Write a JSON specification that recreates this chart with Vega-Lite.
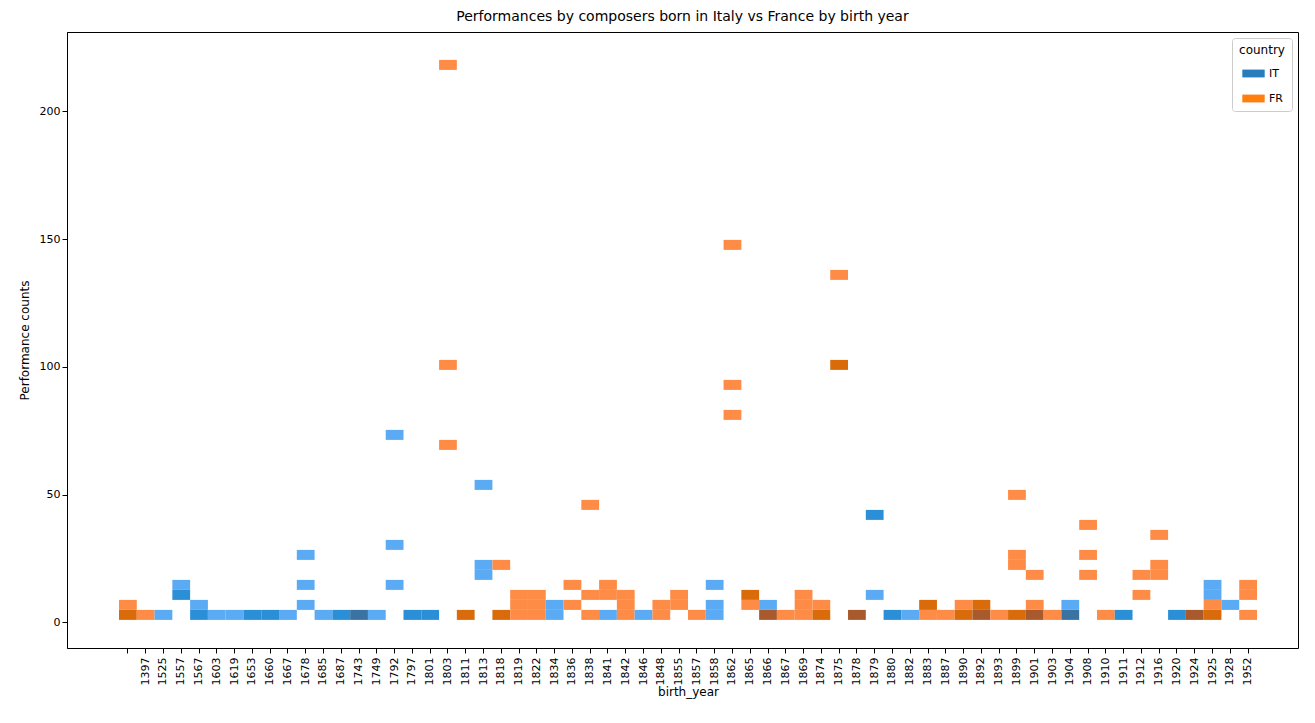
{
  "$schema": "https://vega.github.io/schema/vega-lite/v6.json",
  "autosize": "none",
  "width": 1231,
  "height": 616,
  "padding": {"left": 67, "top": 32, "right": 17, "bottom": 75},
  "config": {
    "font": "DejaVu Sans",
    "view": {"stroke": "black", "strokeWidth": 1},
    "axis": {"labelFontSize": 11, "titleFontSize": 12, "titleFontWeight": "normal", "labelColor": "black", "titleColor": "black", "domainColor": "black", "tickColor": "black", "grid": false}
  },
  "title": {"text": "Performances by composers born in Italy vs France by birth year", "fontSize": 14, "fontWeight": "normal", "offset": 8},
  "layer": [
    {
      "data": {"values": [
        {"year": "", "shade": "FR2", "lo": 1.00, "hi": 4.91},
        {"year": "", "shade": "FR1", "lo": 4.91, "hi": 8.83},
        {"year": "1397", "shade": "FR1", "lo": 1.00, "hi": 4.91},
        {"year": "1525", "shade": "IT1", "lo": 1.00, "hi": 4.91},
        {"year": "1557", "shade": "IT2", "lo": 8.83, "hi": 12.74},
        {"year": "1557", "shade": "IT1", "lo": 12.74, "hi": 16.66},
        {"year": "1567", "shade": "IT2", "lo": 1.00, "hi": 4.91},
        {"year": "1567", "shade": "IT1", "lo": 4.91, "hi": 8.83},
        {"year": "1603", "shade": "IT1", "lo": 1.00, "hi": 4.91},
        {"year": "1619", "shade": "IT1", "lo": 1.00, "hi": 4.91},
        {"year": "1653", "shade": "IT2", "lo": 1.00, "hi": 4.91},
        {"year": "1660", "shade": "IT2", "lo": 1.00, "hi": 4.91},
        {"year": "1667", "shade": "IT1", "lo": 1.00, "hi": 4.91},
        {"year": "1678", "shade": "IT1", "lo": 4.91, "hi": 8.83},
        {"year": "1678", "shade": "IT1", "lo": 12.74, "hi": 16.66},
        {"year": "1678", "shade": "IT1", "lo": 24.48, "hi": 28.40},
        {"year": "1685", "shade": "IT1", "lo": 1.00, "hi": 4.91},
        {"year": "1687", "shade": "IT2", "lo": 1.00, "hi": 4.91},
        {"year": "1743", "shade": "IT3", "lo": 1.00, "hi": 4.91},
        {"year": "1749", "shade": "IT1", "lo": 1.00, "hi": 4.91},
        {"year": "1792", "shade": "IT1", "lo": 12.74, "hi": 16.66},
        {"year": "1792", "shade": "IT1", "lo": 28.40, "hi": 32.31},
        {"year": "1792", "shade": "IT1", "lo": 71.45, "hi": 75.37},
        {"year": "1797", "shade": "IT2", "lo": 1.00, "hi": 4.91},
        {"year": "1801", "shade": "IT2", "lo": 1.00, "hi": 4.91},
        {"year": "1803", "shade": "FR1", "lo": 67.54, "hi": 71.45},
        {"year": "1803", "shade": "FR1", "lo": 98.85, "hi": 102.76},
        {"year": "1803", "shade": "FR1", "lo": 216.27, "hi": 220.18},
        {"year": "1811", "shade": "FR2", "lo": 1.00, "hi": 4.91},
        {"year": "1813", "shade": "IT1", "lo": 16.66, "hi": 20.57},
        {"year": "1813", "shade": "IT1", "lo": 20.57, "hi": 24.48},
        {"year": "1813", "shade": "IT1", "lo": 51.88, "hi": 55.80},
        {"year": "1818", "shade": "FR2", "lo": 1.00, "hi": 4.91},
        {"year": "1818", "shade": "FR1", "lo": 20.57, "hi": 24.48},
        {"year": "1819", "shade": "FR1", "lo": 1.00, "hi": 4.91},
        {"year": "1819", "shade": "FR1", "lo": 4.91, "hi": 8.83},
        {"year": "1819", "shade": "FR1", "lo": 8.83, "hi": 12.74},
        {"year": "1822", "shade": "FR1", "lo": 1.00, "hi": 4.91},
        {"year": "1822", "shade": "FR1", "lo": 4.91, "hi": 8.83},
        {"year": "1822", "shade": "FR1", "lo": 8.83, "hi": 12.74},
        {"year": "1834", "shade": "IT1", "lo": 1.00, "hi": 4.91},
        {"year": "1834", "shade": "IT1", "lo": 4.91, "hi": 8.83},
        {"year": "1836", "shade": "FR1", "lo": 4.91, "hi": 8.83},
        {"year": "1836", "shade": "FR1", "lo": 12.74, "hi": 16.66},
        {"year": "1838", "shade": "FR1", "lo": 1.00, "hi": 4.91},
        {"year": "1838", "shade": "FR1", "lo": 8.83, "hi": 12.74},
        {"year": "1838", "shade": "FR1", "lo": 44.05, "hi": 47.97},
        {"year": "1841", "shade": "IT1", "lo": 1.00, "hi": 4.91},
        {"year": "1841", "shade": "FR1", "lo": 8.83, "hi": 12.74},
        {"year": "1841", "shade": "FR1", "lo": 12.74, "hi": 16.66},
        {"year": "1842", "shade": "FR1", "lo": 1.00, "hi": 4.91},
        {"year": "1842", "shade": "FR1", "lo": 4.91, "hi": 8.83},
        {"year": "1842", "shade": "FR1", "lo": 8.83, "hi": 12.74},
        {"year": "1846", "shade": "IT1", "lo": 1.00, "hi": 4.91},
        {"year": "1848", "shade": "FR1", "lo": 1.00, "hi": 4.91},
        {"year": "1848", "shade": "FR1", "lo": 4.91, "hi": 8.83},
        {"year": "1855", "shade": "FR1", "lo": 4.91, "hi": 8.83},
        {"year": "1855", "shade": "FR1", "lo": 8.83, "hi": 12.74},
        {"year": "1857", "shade": "FR1", "lo": 1.00, "hi": 4.91},
        {"year": "1858", "shade": "IT1", "lo": 1.00, "hi": 4.91},
        {"year": "1858", "shade": "IT1", "lo": 4.91, "hi": 8.83},
        {"year": "1858", "shade": "IT1", "lo": 12.74, "hi": 16.66},
        {"year": "1862", "shade": "FR1", "lo": 79.28, "hi": 83.19},
        {"year": "1862", "shade": "FR1", "lo": 91.02, "hi": 94.94},
        {"year": "1862", "shade": "FR1", "lo": 145.82, "hi": 149.73},
        {"year": "1865", "shade": "FR1", "lo": 4.91, "hi": 8.83},
        {"year": "1865", "shade": "FR2", "lo": 8.83, "hi": 12.74},
        {"year": "1866", "shade": "MIX", "lo": 1.00, "hi": 4.91},
        {"year": "1866", "shade": "IT1", "lo": 4.91, "hi": 8.83},
        {"year": "1867", "shade": "FR1", "lo": 1.00, "hi": 4.91},
        {"year": "1869", "shade": "FR1", "lo": 1.00, "hi": 4.91},
        {"year": "1869", "shade": "FR1", "lo": 4.91, "hi": 8.83},
        {"year": "1869", "shade": "FR1", "lo": 8.83, "hi": 12.74},
        {"year": "1874", "shade": "FR2", "lo": 1.00, "hi": 4.91},
        {"year": "1874", "shade": "FR1", "lo": 4.91, "hi": 8.83},
        {"year": "1875", "shade": "FR2", "lo": 98.85, "hi": 102.76},
        {"year": "1875", "shade": "FR1", "lo": 134.08, "hi": 137.99},
        {"year": "1878", "shade": "MIX", "lo": 1.00, "hi": 4.91},
        {"year": "1879", "shade": "IT1", "lo": 8.83, "hi": 12.74},
        {"year": "1879", "shade": "IT2", "lo": 40.14, "hi": 44.05},
        {"year": "1880", "shade": "IT2", "lo": 1.00, "hi": 4.91},
        {"year": "1882", "shade": "IT1", "lo": 1.00, "hi": 4.91},
        {"year": "1883", "shade": "FR1", "lo": 1.00, "hi": 4.91},
        {"year": "1883", "shade": "FR2", "lo": 4.91, "hi": 8.83},
        {"year": "1887", "shade": "FR1", "lo": 1.00, "hi": 4.91},
        {"year": "1890", "shade": "FR2", "lo": 1.00, "hi": 4.91},
        {"year": "1890", "shade": "FR1", "lo": 4.91, "hi": 8.83},
        {"year": "1892", "shade": "MIX", "lo": 1.00, "hi": 4.91},
        {"year": "1892", "shade": "FR2", "lo": 4.91, "hi": 8.83},
        {"year": "1893", "shade": "FR1", "lo": 1.00, "hi": 4.91},
        {"year": "1899", "shade": "FR2", "lo": 1.00, "hi": 4.91},
        {"year": "1899", "shade": "FR1", "lo": 20.57, "hi": 24.48},
        {"year": "1899", "shade": "FR1", "lo": 24.48, "hi": 28.40},
        {"year": "1899", "shade": "FR1", "lo": 47.97, "hi": 51.88},
        {"year": "1901", "shade": "MIX", "lo": 1.00, "hi": 4.91},
        {"year": "1901", "shade": "FR1", "lo": 4.91, "hi": 8.83},
        {"year": "1901", "shade": "FR1", "lo": 16.66, "hi": 20.57},
        {"year": "1903", "shade": "FR1", "lo": 1.00, "hi": 4.91},
        {"year": "1904", "shade": "IT3", "lo": 1.00, "hi": 4.91},
        {"year": "1904", "shade": "IT1", "lo": 4.91, "hi": 8.83},
        {"year": "1908", "shade": "FR1", "lo": 16.66, "hi": 20.57},
        {"year": "1908", "shade": "FR1", "lo": 24.48, "hi": 28.40},
        {"year": "1908", "shade": "FR1", "lo": 36.23, "hi": 40.14},
        {"year": "1910", "shade": "FR1", "lo": 1.00, "hi": 4.91},
        {"year": "1911", "shade": "IT2", "lo": 1.00, "hi": 4.91},
        {"year": "1912", "shade": "FR1", "lo": 8.83, "hi": 12.74},
        {"year": "1912", "shade": "FR1", "lo": 16.66, "hi": 20.57},
        {"year": "1916", "shade": "FR1", "lo": 16.66, "hi": 20.57},
        {"year": "1916", "shade": "FR1", "lo": 20.57, "hi": 24.48},
        {"year": "1916", "shade": "FR1", "lo": 32.31, "hi": 36.23},
        {"year": "1920", "shade": "IT2", "lo": 1.00, "hi": 4.91},
        {"year": "1924", "shade": "MIX", "lo": 1.00, "hi": 4.91},
        {"year": "1925", "shade": "FR2", "lo": 1.00, "hi": 4.91},
        {"year": "1925", "shade": "FR1", "lo": 4.91, "hi": 8.83},
        {"year": "1925", "shade": "IT1", "lo": 8.83, "hi": 12.74},
        {"year": "1925", "shade": "IT1", "lo": 12.74, "hi": 16.66},
        {"year": "1928", "shade": "IT1", "lo": 4.91, "hi": 8.83},
        {"year": "1952", "shade": "FR1", "lo": 1.00, "hi": 4.91},
        {"year": "1952", "shade": "FR1", "lo": 8.83, "hi": 12.74},
        {"year": "1952", "shade": "FR1", "lo": 12.74, "hi": 16.66}
      ]},
      "mark": {"type": "rect"},
      "encoding": {
        "x": {
          "field": "year", "type": "ordinal", "title": "birth_year",
          "scale": {
            "domain": ["", "1397", "1525", "1557", "1567", "1603", "1619", "1653", "1660", "1667", "1678", "1685", "1687", "1743", "1749", "1792", "1797", "1801", "1803", "1811", "1813", "1818", "1819", "1822", "1834", "1836", "1838", "1841", "1842", "1846", "1848", "1855", "1857", "1858", "1862", "1865", "1866", "1867", "1869", "1874", "1875", "1878", "1879", "1880", "1882", "1883", "1887", "1890", "1892", "1893", "1899", "1901", "1903", "1904", "1908", "1910", "1911", "1912", "1916", "1920", "1924", "1925", "1928", "1952"],
            "paddingInner": 0, "paddingOuter": 0, "range": [52, 1190]
          },
          "axis": {"labelAngle": 270, "labelPadding": 4, "titlePadding": 2}
        },
        "y": {
          "field": "lo", "type": "quantitative", "title": "Performance counts",
          "scale": {"domain": [-10, 231.1], "nice": false, "zero": false},
          "axis": {"values": [0, 50, 100, 150, 200], "titlePadding": 8}
        },
        "y2": {"field": "hi"},
        "color": {
          "field": "shade", "type": "nominal", "legend": null,
          "scale": {
            "domain": ["IT1", "IT2", "IT3", "FR1", "FR2", "MIX"],
            "range": ["#5babf4", "#2b8fd8", "#3a72a2", "#fe8c47", "#d96b0a", "#a85a2c"]
          }
        }
      }
    },
    {
      "data": {"values": [{"country": "IT"}, {"country": "FR"}]},
      "mark": {"type": "square", "opacity": 1, "clip": true},
      "encoding": {
        "y": {"value": -100},
        "x": {"value": 10},
        "color": {
          "field": "country", "type": "nominal", "title": "country",
          "scale": {"domain": ["IT", "FR"], "range": ["#2a7dbd", "#ff7f0e"]},
          "legend": {
            "orient": "top-right", "offset": 6, "padding": 7,
            "strokeColor": "#cccccc", "fillColor": "white", "cornerRadius": 3,
            "symbolType": "M-1,-0.35H1V0.35H-1Z", "symbolSize": 500, "symbolOpacity": 1,
            "symbolStrokeWidth": 0,
            "titleFontWeight": "normal", "titleFontSize": 12, "labelFontSize": 11,
            "rowPadding": 8, "titleAlign": "center", "titleAnchor": "middle"
          }
        }
      }
    }
  ],
  "resolve": {"scale": {"color": "independent"}}
}
